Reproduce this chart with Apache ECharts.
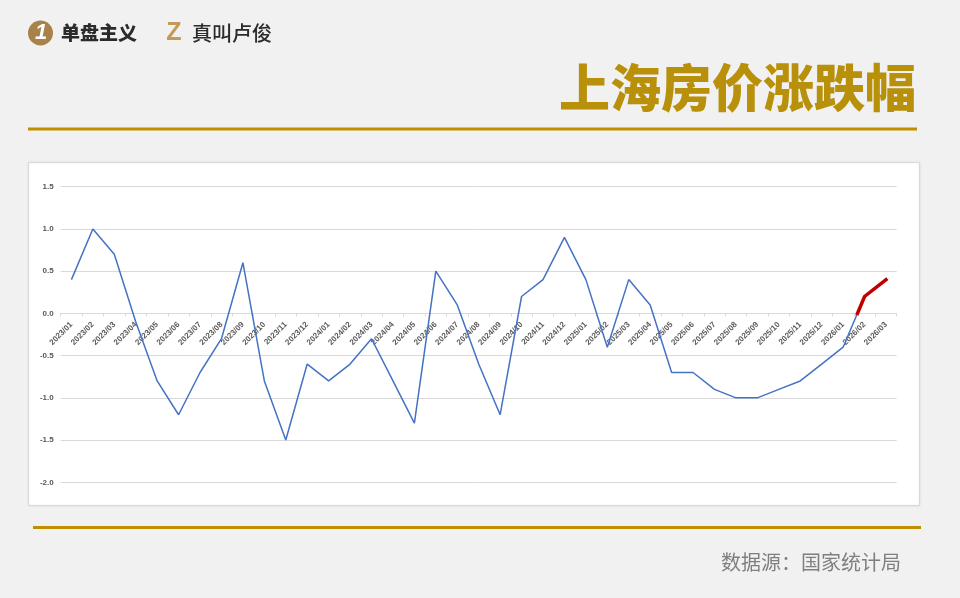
<!DOCTYPE html>
<html>
<head>
<meta charset="utf-8">
<script src="https://cdn.jsdelivr.net/npm/echarts@6/dist/echarts.min.js"></script>
<style>
html,body{margin:0;padding:0;background:#f1f1f1;}
#c{width:960px;height:598px;}
</style>
</head>
<body>
<div id="c"></div>
<script>
var months = ['2023/01','2023/02','2023/03','2023/04','2023/05','2023/06','2023/07','2023/08','2023/09','2023/10','2023/11','2023/12',
  '2024/01','2024/02','2024/03','2024/04','2024/05','2024/06','2024/07','2024/08','2024/09','2024/10','2024/11','2024/12',
  '2025/01','2025/02','2025/03','2025/04','2025/05','2025/06','2025/07','2025/08','2025/09','2025/10','2025/11','2025/12',
  '2026/01','2026/02','2026/03'];
var changeValues = [0.4,1.0,0.7,-0.1,-0.8,-1.2,-0.7,-0.3,0.6,-0.8,-1.5,-0.6,
  -0.8,-0.6,-0.3,-0.8,-1.3,0.5,0.1,-0.6,-1.2,0.2,0.4,0.9,
  0.4,-0.4,0.4,0.1,-0.7,-0.7,-0.9,-1.0,-1.0,-0.9,-0.8,-0.6,
  -0.4,0.2,null];
// highlighted recent segment (position index along months, value)
var redIndex = [36.67, 37, 38];
var redValues = [0.0, 0.2, 0.4];
var yTicks = [-2.0,-1.5,-1.0,-0.5,0.0,0.5,1.0,1.5];
var titleText = '上海房价涨跌幅';
var sourceText = '数据源：国家统计局';

var redData = redIndex.map(function(x,i){return [x, redValues[i]];});
var gold = '#BF8F00';
var gridTop = 186.7, gridBottom = 115.7;
var yMin = yTicks[0], yMax = yTicks[yTicks.length-1];
var gridH = 598 - gridTop - gridBottom;
var zeroOffset = -gridH * (0 - yMin) / (yMax - yMin);

var chart = echarts.init(document.getElementById('c'), null, {renderer:'canvas'});
chart.setOption({
  backgroundColor:'#f1f1f1',
  animation:false,
  grid:{left:60.7, right:63.3, top:gridTop, bottom:gridBottom},
  xAxis:[{
    type:'category', data:months, boundaryGap:true, position:'bottom', offset:zeroOffset,
    axisLine:{onZero:false, lineStyle:{color:'#d9d9d9', width:1}},
    axisTick:{show:true, length:3, lineStyle:{color:'#d9d9d9'}},
    axisLabel:{interval:0, rotate:45, fontSize:8, fontWeight:'bold', color:'#595959', margin:10, fontFamily:'Liberation Sans'}
  },{
    type:'value', min:-0.5, max:months.length-0.5, show:false, position:'top',
    axisLine:{onZero:false}, splitLine:{show:false}
  }],
  yAxis:{
    type:'value', min:yMin, max:yMax, interval:0.5,
    axisLine:{show:false}, axisTick:{show:false},
    splitLine:{lineStyle:{color:'#d9d9d9', width:1}},
    axisLabel:{fontSize:8, fontWeight:'bold', color:'#595959', margin:7, fontFamily:'Liberation Sans',
      formatter:function(v){return v.toFixed(1);}}
  },
  series:[{
    type:'line', data:changeValues, xAxisIndex:0, showSymbol:false, symbol:'none',
    lineStyle:{color:'#4472C4', width:1.5}, z:3
  },{
    type:'line', data:redData, xAxisIndex:1, showSymbol:false, symbol:'none',
    lineStyle:{color:'#C00000', width:3.5, cap:'square', join:'miter'}, z:4
  }],
  graphic:[
    {type:'rect', z:-10, shape:{x:28.5, y:162.5, width:891, height:343},
      style:{fill:'#ffffff', stroke:'#d9d9d9', lineWidth:1, shadowBlur:3, shadowColor:'rgba(0,0,0,0.08)'}},
    {type:'rect', z:-5, shape:{x:28, y:127.5, width:889, height:3}, style:{fill:gold}},
    {type:'rect', z:-5, shape:{x:33, y:526, width:888, height:3}, style:{fill:gold}},
    {type:'text', z:5, x:916, y:88, style:{text:titleText, fill:'#B8900A', font:'900 51px "Noto Sans CJK SC"', textAlign:'right', textVerticalAlign:'middle'}},
    {type:'text', z:5, x:901, y:562, style:{text:sourceText, fill:'#7f7f7f', font:'400 20px "Noto Sans CJK SC"', textAlign:'right', textVerticalAlign:'middle'}},
    {type:'circle', z:5, shape:{cx:40.5, cy:33, r:12.5}, style:{fill:'#A8824A'}},
    {type:'text', z:6, x:41, y:33, style:{text:'1', fill:'#ffffff', font:'italic bold 22px "Liberation Sans"', textAlign:'center', textVerticalAlign:'middle'}},
    {type:'text', z:5, x:61, y:33, style:{text:'单盘主义', fill:'#2b2b2b', font:'900 19px "Noto Sans CJK SC"', textAlign:'left', textVerticalAlign:'middle'}},
    {type:'text', z:5, x:174, y:33, style:{text:'Z', fill:'#C49A57', font:'900 25px "Liberation Sans"', textAlign:'center', textVerticalAlign:'middle'}},
    {type:'text', z:5, x:192, y:33, style:{text:'真叫卢俊', fill:'#2b2b2b', font:'500 20px "Noto Sans CJK SC"', textAlign:'left', textVerticalAlign:'middle'}}
  ]
});
</script>
</body>
</html>
